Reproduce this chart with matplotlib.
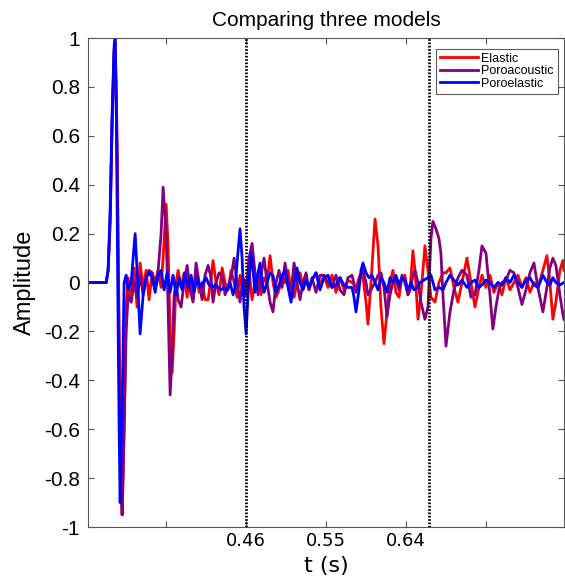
import matplotlib
matplotlib.use("Agg")
import matplotlib.pyplot as plt

# (time in s, amplitude)
elastic = [
    (0.2823, 0.0), (0.3026, 0.0), (0.3048, 0.05), (0.3071, 0.25), (0.3093, 0.65),
    (0.3116, 0.95), (0.3127, 0.98), (0.3149, 0.6), (0.3172, -0.2), (0.3194, -0.8),
    (0.3206, -0.95), (0.3228, -0.6), (0.3251, -0.1), (0.3273, 0.02), (0.3307, -0.08),
    (0.3341, 0.06), (0.3374, -0.1), (0.3408, 0.08), (0.3442, -0.02), (0.3476, 0.05),
    (0.3509, -0.07), (0.3543, 0.04), (0.3577, 0.0), (0.3611, 0.05), (0.3644, -0.02),
    (0.3667, 0.1), (0.3701, 0.32), (0.3723, 0.15), (0.3746, -0.2), (0.3768, -0.37),
    (0.3791, -0.2), (0.3813, 0.0), (0.3836, 0.05), (0.3869, -0.02), (0.3903, 0.04),
    (0.3937, -0.06), (0.3971, 0.02), (0.4004, -0.07), (0.4038, 0.05), (0.4072, -0.04),
    (0.4106, 0.0), (0.4139, -0.07), (0.4173, -0.07), (0.4207, 0.02), (0.4229, 0.09),
    (0.4263, 0.0), (0.4297, -0.05), (0.4331, 0.06), (0.4364, 0.0), (0.4398, -0.03),
    (0.4432, 0.05), (0.4466, 0.0), (0.4499, -0.06), (0.4533, 0.03), (0.4567, -0.05),
    (0.4601, 0.0), (0.4634, 0.05), (0.4668, -0.07), (0.4702, 0.0), (0.4736, 0.04),
    (0.4769, -0.05), (0.4803, 0.02), (0.4837, 0.0), (0.4871, 0.11), (0.4904, 0.0),
    (0.4938, -0.06), (0.4972, -0.03), (0.5006, 0.03), (0.5039, 0.0), (0.5073, 0.05),
    (0.5107, -0.03), (0.5141, -0.06), (0.5174, 0.0), (0.5208, 0.04), (0.5242, -0.02),
    (0.5276, 0.02), (0.5309, -0.03), (0.5343, 0.01), (0.5388, 0.04), (0.5433, -0.01),
    (0.5478, 0.03), (0.5523, -0.02), (0.5568, 0.03), (0.5613, -0.04), (0.5658, 0.02),
    (0.5703, -0.03), (0.5748, 0.01), (0.5793, 0.0), (0.5838, -0.02), (0.5883, 0.03),
    (0.5917, 0.02), (0.5951, -0.08), (0.5973, -0.17), (0.6007, 0.0), (0.6052, 0.26),
    (0.6086, 0.15), (0.6119, -0.1), (0.6153, -0.25), (0.6187, -0.12), (0.6221, 0.0),
    (0.6254, 0.05), (0.6288, -0.04), (0.6322, -0.06), (0.6356, 0.02), (0.6389, 0.03),
    (0.6423, -0.05), (0.6446, -0.03), (0.6479, 0.13), (0.6502, 0.05), (0.6536, -0.15),
    (0.6569, -0.05), (0.6614, 0.15), (0.6648, 0.05), (0.6682, -0.06), (0.6727, -0.08),
    (0.6772, 0.0), (0.6817, 0.04), (0.6851, 0.04), (0.6896, 0.06), (0.6941, -0.02),
    (0.6986, -0.08), (0.7031, 0.0), (0.7087, 0.10), (0.7132, 0.0), (0.7177, -0.10),
    (0.7222, -0.02), (0.7256, 0.03), (0.7301, -0.02), (0.7346, 0.03), (0.7391, -0.04),
    (0.7436, 0.0), (0.7481, -0.05), (0.7526, 0.02), (0.7571, -0.03), (0.7616, 0.0),
    (0.7661, 0.03), (0.7706, -0.02), (0.7751, 0.02), (0.7796, -0.04), (0.7841, 0.0),
    (0.7886, -0.02), (0.7942, 0.05), (0.7987, 0.11), (0.8021, 0.0), (0.8054, -0.15),
    (0.8088, -0.08), (0.8133, 0.05), (0.8167, 0.09), (0.8178, 0.05),
]

poroacoustic = [
    (0.2823, 0.0), (0.3026, 0.0), (0.3048, 0.05), (0.3071, 0.25), (0.3093, 0.65),
    (0.3116, 0.95), (0.3127, 0.98), (0.3149, 0.5), (0.3172, -0.3), (0.3194, -0.85),
    (0.3206, -0.95), (0.3228, -0.6), (0.3251, -0.2), (0.3273, -0.05), (0.3307, -0.08),
    (0.3341, 0.0), (0.3374, -0.06), (0.3408, 0.03), (0.3442, -0.05), (0.3476, 0.02),
    (0.3509, 0.05), (0.3543, 0.04), (0.3577, -0.02), (0.3611, 0.05), (0.3644, 0.2),
    (0.3667, 0.39), (0.3701, 0.2), (0.3723, -0.1), (0.3746, -0.46), (0.3768, -0.3),
    (0.3791, -0.05), (0.3813, 0.0), (0.3836, -0.07), (0.3869, -0.1), (0.3903, 0.0),
    (0.3937, 0.07), (0.3971, -0.03), (0.4004, -0.08), (0.4038, 0.08), (0.4072, 0.0),
    (0.4106, -0.07), (0.4139, 0.03), (0.4173, 0.07), (0.4207, 0.02), (0.4229, -0.08),
    (0.4263, 0.0), (0.4297, 0.04), (0.4331, 0.03), (0.4364, -0.05), (0.4398, -0.02),
    (0.4432, 0.02), (0.4466, 0.1), (0.4499, 0.0), (0.4533, -0.08), (0.4567, 0.02),
    (0.4601, -0.05), (0.4634, 0.1), (0.4668, 0.16), (0.4702, 0.04), (0.4736, -0.05),
    (0.4769, 0.03), (0.4803, 0.1), (0.4837, 0.0), (0.4871, -0.08), (0.4904, -0.12),
    (0.4938, 0.0), (0.4972, 0.05), (0.5006, -0.02), (0.5039, 0.08), (0.5073, 0.0),
    (0.5107, -0.04), (0.5141, 0.08), (0.5174, 0.0), (0.5208, -0.07), (0.5242, 0.0),
    (0.5276, 0.04), (0.5309, -0.03), (0.5343, 0.02), (0.5388, -0.04), (0.5433, 0.03),
    (0.5478, 0.03), (0.5523, 0.0), (0.5568, -0.02), (0.5613, 0.03), (0.5658, -0.03),
    (0.5703, -0.05), (0.5748, 0.02), (0.5793, 0.03), (0.5838, -0.04), (0.5883, 0.02),
    (0.5917, 0.05), (0.5951, 0.0), (0.5973, -0.05), (0.6007, -0.03), (0.6052, 0.0),
    (0.6086, 0.03), (0.6119, 0.04), (0.6153, -0.02), (0.6187, -0.14), (0.6221, -0.05),
    (0.6254, 0.0), (0.6288, 0.02), (0.6322, -0.03), (0.6356, 0.03), (0.6389, 0.0),
    (0.6423, -0.05), (0.6446, -0.03), (0.6479, 0.03), (0.6502, 0.05), (0.6536, 0.0),
    (0.6569, -0.08), (0.6614, -0.15), (0.6648, -0.1), (0.6682, 0.18), (0.6704, 0.25),
    (0.6738, 0.22), (0.6772, 0.18), (0.6794, 0.12), (0.6817, -0.05), (0.6851, -0.26),
    (0.6896, -0.12), (0.6941, -0.03), (0.6986, 0.02), (0.7031, 0.05), (0.7087, 0.03),
    (0.7132, -0.06), (0.7177, -0.05), (0.7222, 0.05), (0.7256, 0.15), (0.7301, 0.12),
    (0.7346, -0.05), (0.7379, -0.19), (0.7413, -0.1), (0.7447, -0.03), (0.7481, 0.0),
    (0.7526, 0.01), (0.7571, 0.05), (0.7616, 0.04), (0.7661, -0.02), (0.7706, -0.09),
    (0.7751, -0.03), (0.7796, 0.04), (0.7841, 0.08), (0.7886, -0.02), (0.7942, -0.12),
    (0.7987, -0.02), (0.8021, 0.06), (0.8054, 0.10), (0.8088, 0.07), (0.8133, -0.05),
    (0.8167, -0.13), (0.8178, -0.15),
]

poroelastic = [
    (0.2823, 0.0), (0.3026, 0.0), (0.3048, 0.05), (0.3071, 0.3), (0.3093, 0.7),
    (0.3116, 0.97), (0.3127, 1.0), (0.3138, 0.8), (0.3161, -0.2), (0.3172, -0.6),
    (0.3183, -0.9), (0.3206, -0.5), (0.3228, 0.0), (0.3251, 0.03), (0.3273, -0.03),
    (0.3307, 0.0), (0.3329, 0.1), (0.3352, 0.2), (0.3374, 0.05), (0.3408, -0.21),
    (0.3442, -0.05), (0.3476, 0.02), (0.3509, 0.04), (0.3543, 0.02), (0.3577, -0.04),
    (0.3611, 0.03), (0.3644, 0.05), (0.3678, -0.03), (0.3712, 0.04), (0.3746, -0.04),
    (0.3779, 0.03), (0.3813, -0.05), (0.3847, 0.02), (0.3881, -0.03), (0.3914, 0.04),
    (0.3948, -0.02), (0.3982, 0.03), (0.4016, -0.04), (0.4049, 0.02), (0.4083, -0.02),
    (0.4117, 0.0), (0.4151, 0.02), (0.4184, -0.01), (0.4218, -0.02), (0.4252, -0.01),
    (0.4286, -0.02), (0.4319, -0.03), (0.4353, -0.02), (0.4387, -0.03), (0.4421, 0.0),
    (0.4454, -0.05), (0.4477, -0.02), (0.4499, 0.08), (0.4533, 0.22), (0.4556, 0.1),
    (0.4578, -0.1), (0.4601, -0.21), (0.4623, -0.05), (0.4657, 0.12), (0.4679, 0.05),
    (0.4702, -0.04), (0.4736, 0.04), (0.4758, 0.08), (0.4781, 0.0), (0.4803, -0.04),
    (0.4837, 0.0), (0.4871, 0.04), (0.4904, 0.03), (0.4938, -0.04), (0.4972, -0.01),
    (0.5006, 0.03), (0.5039, 0.05), (0.5073, -0.02), (0.5107, -0.08), (0.5141, 0.0),
    (0.5174, 0.06), (0.5208, 0.0), (0.5242, -0.03), (0.5276, 0.01), (0.5309, -0.02),
    (0.5343, 0.01), (0.5388, 0.04), (0.5433, -0.03), (0.5478, 0.02), (0.5523, 0.03),
    (0.5568, -0.02), (0.5613, -0.01), (0.5658, 0.02), (0.5703, -0.01), (0.5748, -0.02),
    (0.5793, -0.02), (0.5816, -0.06), (0.5838, -0.12), (0.5872, -0.03), (0.5894, 0.05),
    (0.5917, 0.08), (0.5951, 0.04), (0.5984, 0.02), (0.6018, 0.03), (0.6052, 0.0),
    (0.6086, -0.03), (0.6119, 0.02), (0.6153, 0.0), (0.6187, -0.04), (0.6221, 0.02),
    (0.6254, 0.0), (0.6288, 0.03), (0.6322, -0.01), (0.6356, 0.02), (0.6389, 0.01),
    (0.6423, -0.03), (0.6457, 0.0), (0.6491, -0.03), (0.6524, -0.02), (0.6558, 0.0),
    (0.6603, 0.01), (0.6648, 0.02), (0.6682, 0.03), (0.6727, -0.03), (0.6772, -0.02),
    (0.6817, -0.03), (0.6851, 0.0), (0.6896, 0.03), (0.6941, 0.01), (0.6986, -0.01),
    (0.7031, 0.01), (0.7087, -0.02), (0.7132, 0.0), (0.7177, 0.01), (0.7222, -0.02),
    (0.7256, -0.01), (0.7301, 0.01), (0.7346, 0.0), (0.7391, -0.02), (0.7436, 0.0),
    (0.7481, -0.01), (0.7526, 0.02), (0.7571, 0.0), (0.7616, 0.03), (0.7661, 0.0),
    (0.7706, -0.02), (0.7751, 0.01), (0.7796, 0.02), (0.7841, -0.01), (0.7886, -0.02),
    (0.7942, 0.03), (0.7987, 0.0), (0.8021, -0.01), (0.8054, 0.02), (0.8088, 0.0),
    (0.8133, -0.01), (0.8178, 0.0),
]

marks = [0.46, 0.666]
xticks = [0.37, 0.46, 0.55, 0.64, 0.73]
xticklabels = ['', '0.46', '0.55', '0.64', '']
yticks = [-1, -0.8, -0.6, -0.4, -0.2, 0, 0.2, 0.4, 0.6, 0.8, 1]
yticklabels = ['-1', '-0.8', '-0.6', '-0.4', '-0.2', '0', '0.2', '0.4', '0.6', '0.8', '1']

fig = plt.figure(figsize=(5.65, 5.85), dpi=100)
ax = fig.add_axes([0.156, 0.099, 0.842, 0.836])

for data, col, name in [(elastic, 'red', 'Elastic'),
                        (poroacoustic, 'purple', 'Poroacoustic'),
                        (poroelastic, 'blue', 'Poroelastic')]:
    t, a = zip(*data)
    ax.plot(t, a, color=col, lw=2, label=name)

for m in marks:
    ax.axvline(m, color='black', ls=(0, (0.6, 0.6)), lw=2)

ax.set_xlim(0.2823, 0.8178)
ax.set_ylim(-1, 1)
ax.set_xticks(xticks)
ax.set_xticklabels(xticklabels, fontsize=13)
ax.set_yticks(yticks)
ax.set_yticklabels(yticklabels, fontsize=15, family='Liberation Sans')
ax.tick_params(direction='in', top=True, right=True, length=4, color='#555555')
ax.tick_params(axis='y', pad=6)
for s in ax.spines.values():
    s.set_color('#555555')
    s.set_linewidth(0.8)

ax.set_xlabel('t (s)', fontsize=16, labelpad=4)
ax.set_ylabel('Amplitude', fontsize=17, family='Liberation Sans', labelpad=6)
ax.set_title('Comparing three models', fontsize=15, family='Liberation Sans', pad=9)
leg = ax.legend(loc='upper right', bbox_to_anchor=(0.987, 0.978), borderaxespad=0,
                handlelength=3.0, fancybox=False, edgecolor='#333333',
                borderpad=0.3, labelspacing=0.05, handletextpad=0.3,
                prop={'family': 'Liberation Sans', 'size': 9})
leg.get_frame().set_linewidth(0.8)

fig.savefig('out.png', dpi=100)
